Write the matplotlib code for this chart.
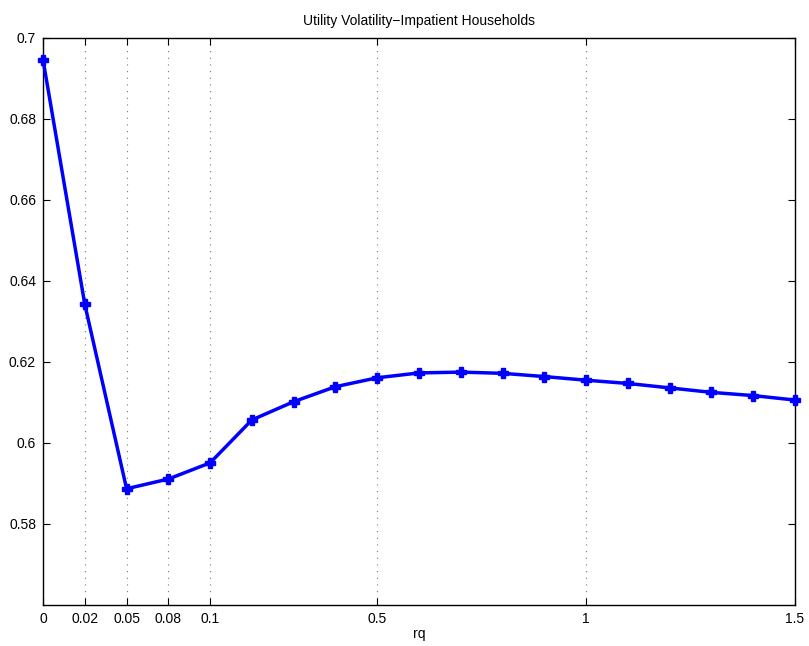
import matplotlib
matplotlib.use("Agg")
import matplotlib.pyplot as plt
import numpy as np

plt.rcParams['font.family'] = ['Liberation Sans', 'DejaVu Sans']

# rq grid used in the simulation (plotted by index, equally spaced)
rq = [0, 0.02, 0.05, 0.08, 0.1, 0.2, 0.3, 0.4, 0.5, 0.6, 0.7, 0.8, 0.9,
      1.0, 1.1, 1.2, 1.3, 1.4, 1.5]
vol = [0.6946, 0.6342, 0.5887, 0.5911, 0.5951, 0.6057, 0.6102, 0.6139,
       0.6161, 0.6173, 0.6175, 0.6172, 0.6164, 0.6155, 0.6147, 0.6136,
       0.6125, 0.6117, 0.6106]
tick_labels = ['0', '0.02', '0.05', '0.08', '0.1', '0.5', '1', '1.5']

idx = np.arange(len(rq))
tick_pos = [rq.index(float(t)) for t in tick_labels]

fig = plt.figure(figsize=(8.09, 6.46), dpi=100)
ax = fig.add_axes([0.0532, 0.0635, 0.9295, 0.8777])
ax.plot(idx, vol, color='blue', linewidth=2.5, marker='P', markersize=7,
        markeredgewidth=1.0, clip_on=False, zorder=3)
ax.set_xlim(0, len(rq) - 1)
ax.set_ylim(0.56, 0.7)
ax.set_xticks(tick_pos)
ax.set_xticklabels(tick_labels)
ax.set_yticks([0.58, 0.6, 0.62, 0.64, 0.66, 0.68, 0.7])
ax.set_yticklabels(['0.58', '0.6', '0.62', '0.64', '0.66', '0.68', '0.7'])
ax.xaxis.grid(True, linestyle=(0, (1, 5)), color='#777777', linewidth=0.8)
ax.tick_params(direction='in', top=True, right=True, labelsize=10,
               length=5, width=0.8, pad=5)
for s in ax.spines.values():
    s.set_linewidth(1.0)
ax.set_xlabel('rq', fontsize=10, labelpad=1)
ax.set_title('Utility Volatility\u2212Impatient Households', fontsize=10, pad=9)

fig.savefig('out.png', dpi=100)
